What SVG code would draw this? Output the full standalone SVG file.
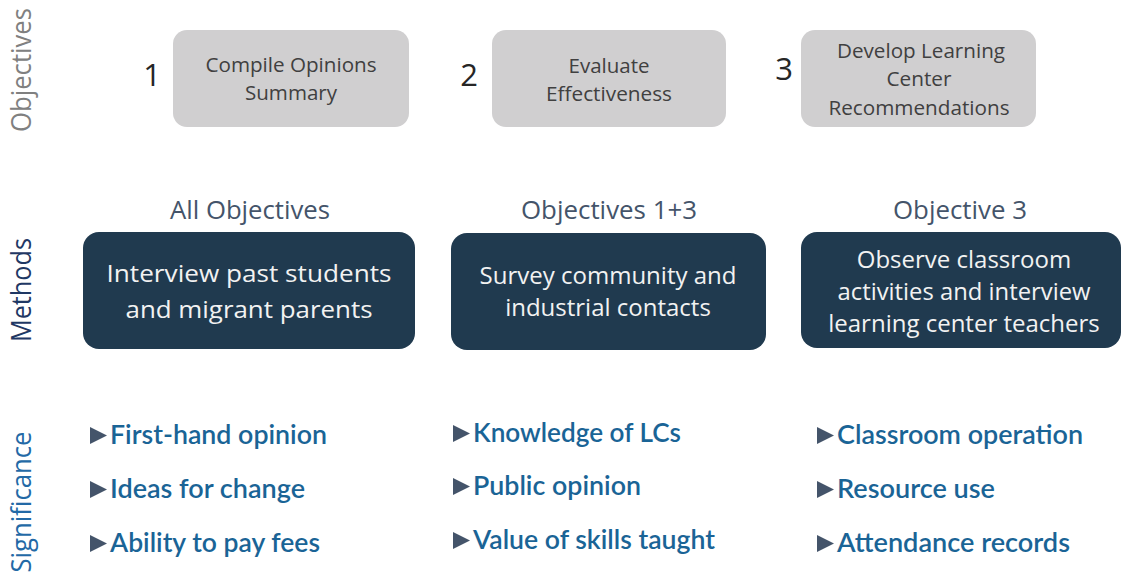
<svg xmlns="http://www.w3.org/2000/svg" width="1122" height="575" viewBox="0 0 1122 575">
<defs>
<style>
.obj{fill:#d0cfd0}
.meth{fill:#203a4f}
.num{font-family:"Open Sans","Liberation Sans",sans-serif;font-size:31px;fill:#262626;text-anchor:middle}
.ot{font-family:"Open Sans","Liberation Sans",sans-serif;font-size:20px;fill:#404040;text-anchor:middle}
.hd{font-family:"Open Sans","Liberation Sans",sans-serif;font-size:25px;fill:#44546a;text-anchor:middle}
.mt{font-family:"Open Sans","Liberation Sans",sans-serif;font-size:24px;fill:#f2f2f2;text-anchor:middle}
.bl{font-family:Lato,"Liberation Sans",sans-serif;font-size:26px;font-weight:600;fill:#1a6496}
.tri{fill:#44546a}
.side{font-family:"Open Sans","Liberation Sans",sans-serif;font-size:27px;text-anchor:middle}
</style>
</defs>
<rect width="1122" height="575" fill="#ffffff"/>
<g id="side-labels">
<text class="side" fill="#808080" transform="translate(31,70) rotate(-90)" textLength="124" lengthAdjust="spacingAndGlyphs">Objectives</text>
<text class="side" fill="#1f3864" transform="translate(31,290) rotate(-90)" textLength="104" lengthAdjust="spacingAndGlyphs">Methods</text>
<text class="side" fill="#2369a6" transform="translate(31,502) rotate(-90)" textLength="141" lengthAdjust="spacingAndGlyphs">Significance</text>
</g>
<g id="objective1">
<text class="num" x="152" y="86">1</text>
<rect class="obj" x="173" y="30" width="236" height="97" rx="14"/>
<text class="ot" x="291" y="72" textLength="171" lengthAdjust="spacingAndGlyphs">Compile Opinions</text>
<text class="ot" x="291" y="100" textLength="92" lengthAdjust="spacingAndGlyphs">Summary</text>
</g>
<g id="objective2">
<text class="num" x="469" y="86">2</text>
<rect class="obj" x="492" y="30" width="234" height="97" rx="14"/>
<text class="ot" x="609" y="73" textLength="81" lengthAdjust="spacingAndGlyphs">Evaluate</text>
<text class="ot" x="609" y="101" textLength="126" lengthAdjust="spacingAndGlyphs">Effectiveness</text>
</g>
<g id="objective3">
<text class="num" x="784" y="80">3</text>
<rect class="obj" x="801" y="30" width="235" height="97" rx="14"/>
<text class="ot" x="921" y="58" textLength="168" lengthAdjust="spacingAndGlyphs">Develop Learning</text>
<text class="ot" x="919" y="86" textLength="65" lengthAdjust="spacingAndGlyphs">Center</text>
<text class="ot" x="919" y="115" textLength="181" lengthAdjust="spacingAndGlyphs">Recommendations</text>
</g>
<g id="method1">
<text class="hd" x="250" y="219" textLength="160" lengthAdjust="spacingAndGlyphs">All Objectives</text>
<rect class="meth" x="83" y="232" width="332" height="117" rx="16"/>
<text class="mt" x="249" y="282" textLength="285" lengthAdjust="spacingAndGlyphs">Interview past students</text>
<text class="mt" x="249" y="318" textLength="247" lengthAdjust="spacingAndGlyphs">and migrant parents</text>
</g>
<g id="method2">
<text class="hd" x="609" y="219" textLength="176" lengthAdjust="spacingAndGlyphs">Objectives 1+3</text>
<rect class="meth" x="451" y="233" width="315" height="117" rx="16"/>
<text class="mt" x="608" y="284" textLength="257" lengthAdjust="spacingAndGlyphs">Survey community and</text>
<text class="mt" x="608" y="316">industrial contacts</text>
</g>
<g id="method3">
<text class="hd" x="960" y="219" textLength="134" lengthAdjust="spacingAndGlyphs">Objective 3</text>
<rect class="meth" x="801" y="232" width="320" height="116" rx="16"/>
<text class="mt" x="964" y="268">Observe classroom</text>
<text class="mt" x="964" y="300" textLength="253" lengthAdjust="spacingAndGlyphs">activities and interview</text>
<text class="mt" x="964" y="332">learning center teachers</text>
</g>
<g id="significance1">
<polygon class="tri" points="90,427 107,435.5 90,444"/>
<text class="bl" x="110" y="444" textLength="217" lengthAdjust="spacingAndGlyphs">First-hand opinion</text>
<polygon class="tri" points="90,481 107,489.5 90,498"/>
<text class="bl" x="110" y="498" textLength="195" lengthAdjust="spacingAndGlyphs">Ideas for change</text>
<polygon class="tri" points="90,535 107,543.5 90,552"/>
<text class="bl" x="110" y="552" textLength="210" lengthAdjust="spacingAndGlyphs">Ability to pay fees</text>
</g>
<g id="significance2">
<polygon class="tri" points="453,425 470,433.5 453,442"/>
<text class="bl" x="473" y="442" textLength="208" lengthAdjust="spacingAndGlyphs">Knowledge of LCs</text>
<polygon class="tri" points="453,478 470,486.5 453,495"/>
<text class="bl" x="473" y="495" textLength="168" lengthAdjust="spacingAndGlyphs">Public opinion</text>
<polygon class="tri" points="453,532 470,540.5 453,549"/>
<text class="bl" x="473" y="549" textLength="242" lengthAdjust="spacingAndGlyphs">Value of skills taught</text>
</g>
<g id="significance3">
<polygon class="tri" points="817,427 834,435.5 817,444"/>
<text class="bl" x="837" y="444" textLength="246" lengthAdjust="spacingAndGlyphs">Classroom operation</text>
<polygon class="tri" points="817,481 834,489.5 817,498"/>
<text class="bl" x="837" y="498" textLength="158" lengthAdjust="spacingAndGlyphs">Resource use</text>
<polygon class="tri" points="817,535 834,543.5 817,552"/>
<text class="bl" x="837" y="552" textLength="233" lengthAdjust="spacingAndGlyphs">Attendance records</text>
</g>
<g id="connectors"/>
</svg>
